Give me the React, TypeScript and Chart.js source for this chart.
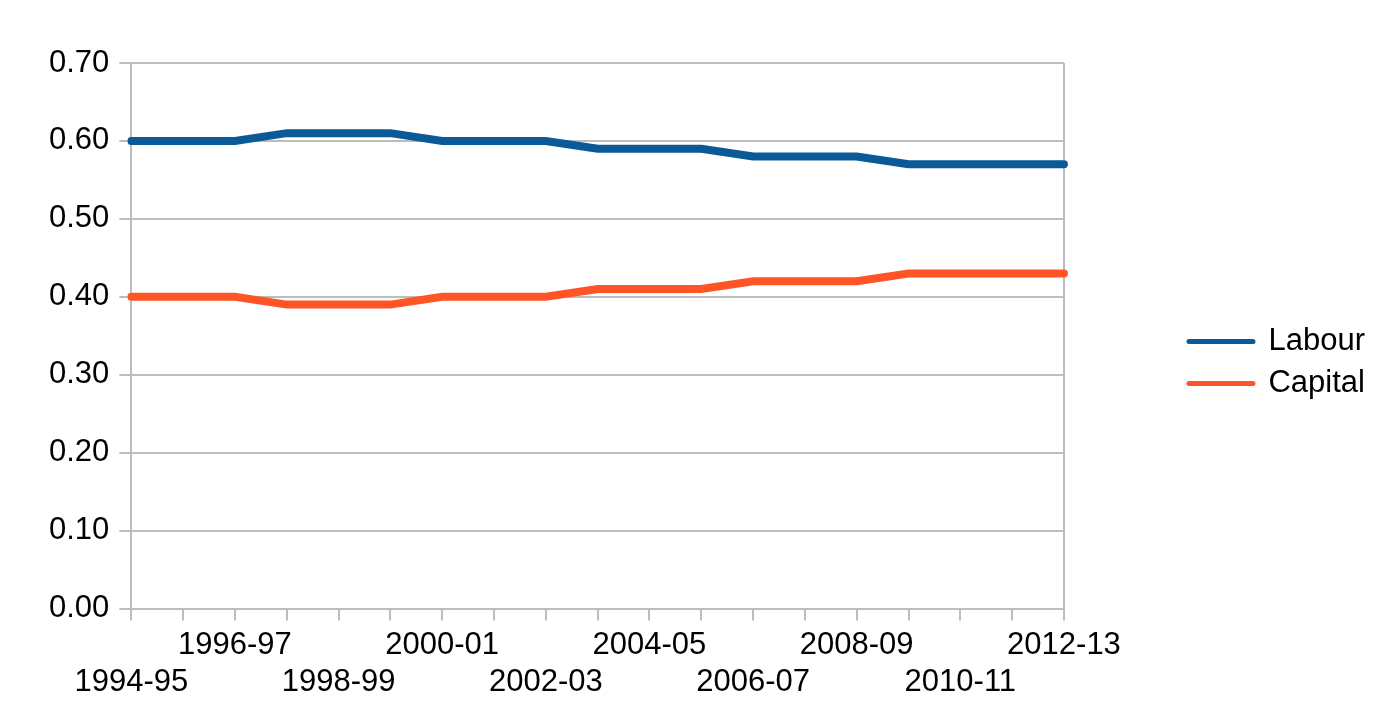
import React, { useEffect, useRef } from "react";
import { Chart, registerables } from "chart.js";

Chart.register(...registerables);

const categories = [
  "1994-95", "1995-96", "1996-97", "1997-98", "1998-99", "1999-00", "2000-01",
  "2001-02", "2002-03", "2003-04", "2004-05", "2005-06", "2006-07", "2007-08",
  "2008-09", "2009-10", "2010-11", "2011-12", "2012-13",
];
const labour = [0.6, 0.6, 0.6, 0.61, 0.61, 0.61, 0.6, 0.6, 0.6, 0.59, 0.59, 0.59, 0.58, 0.58, 0.58, 0.57, 0.57, 0.57, 0.57];
const capital = [0.4, 0.4, 0.4, 0.39, 0.39, 0.39, 0.4, 0.4, 0.4, 0.41, 0.41, 0.41, 0.42, 0.42, 0.42, 0.43, 0.43, 0.43, 0.43];
const seriesNames = ["Labour", "Capital"];
const seriesColors = ["#0a5a98", "#ff5526"];
const yMin = 0;
const yMax = 0.7;
const yStep = 0.1;

const FONT = "'Liberation Sans', Arial, sans-serif";
const GRID = "#bdbdbd";

export default function App() {
  const ref = useRef<HTMLCanvasElement | null>(null);

  useEffect(() => {
    if (!ref.current) return;
    const chart = new Chart(ref.current, {
      type: "line",
      data: {
        labels: categories,
        datasets: [
          {
            label: seriesNames[0],
            data: labour,
            borderColor: seriesColors[0],
            backgroundColor: seriesColors[0],
            borderWidth: 8,
            pointRadius: 0,
            tension: 0,
            borderCapStyle: "round",
            yAxisID: "y",
          },
          {
            label: seriesNames[1],
            data: capital,
            borderColor: seriesColors[1],
            backgroundColor: seriesColors[1],
            borderWidth: 8,
            pointRadius: 0,
            tension: 0,
            borderCapStyle: "round",
            yAxisID: "y",
          },
        ],
      },
      options: {
        responsive: false,
        animation: false,
        layout: { padding: { left: 39, top: 63, right: 5, bottom: 7 } },
        plugins: {
          tooltip: { enabled: false },
          legend: {
            position: "right",
            align: "start",
            title: {
              display: true,
              text: " ",
              font: { family: FONT, size: 10, lineHeight: 1 },
              padding: { top: 242, bottom: 0 },
            },
            labels: {
              usePointStyle: true,
              pointStyle: "line",
              pointStyleWidth: 64,
              padding: 11,
              color: "#000",
              font: { family: FONT, size: 31 },
              generateLabels: (c: any) => {
                const items = Chart.defaults.plugins.legend.labels.generateLabels(c);
                items.forEach((it: any) => {
                  it.lineWidth = 5;
                  it.lineCap = "round";
                });
                return items;
              },
            },
          },
        },
        scales: {
          x: {
            type: "category",
            offset: false,
            border: { color: GRID, width: 2 },
            grid: {
              drawOnChartArea: true,
              color: (ctx: any) => (ctx.index === categories.length - 1 ? GRID : "rgba(0,0,0,0)"),
              tickColor: GRID,
              lineWidth: 2,
              tickLength: 12,
            },
            ticks: {
              autoSkip: false,
              maxRotation: 0,
              minRotation: 0,
              padding: 6,
              color: "#000",
              font: { family: FONT, size: 31, lineHeight: 1.2 },
              callback: (_v: any, index: number) => {
                if (index % 4 === 0) return ["", categories[index]];
                if (index % 2 === 0) return categories[index];
                return "";
              },
            },
          },
          y: {
            type: "linear",
            position: "left",
            min: yMin,
            max: yMax,
            border: { color: GRID, width: 2 },
            grid: { color: GRID, lineWidth: 2, tickLength: 12, tickColor: GRID },
            ticks: {
              stepSize: yStep,
              padding: 10,
              color: "#000",
              font: { family: FONT, size: 31 },
              callback: (v: any) => Number(v).toFixed(2),
            },
          },
          gap: {
            type: "linear",
            position: "right",
            display: true,
            grid: { display: false },
            border: { display: false },
            ticks: { display: false },
            afterFit: (scale: any) => {
              scale.width = 114;
            },
          },
        },
      },
    });
    return () => chart.destroy();
  }, []);

  return (
    <div style={{ position: "fixed", left: 0, top: 0, width: 1380, height: 714, background: "#fff" }}>
      <canvas ref={ref} width={1380} height={714} style={{ display: "block" }} />
    </div>
  );
}
